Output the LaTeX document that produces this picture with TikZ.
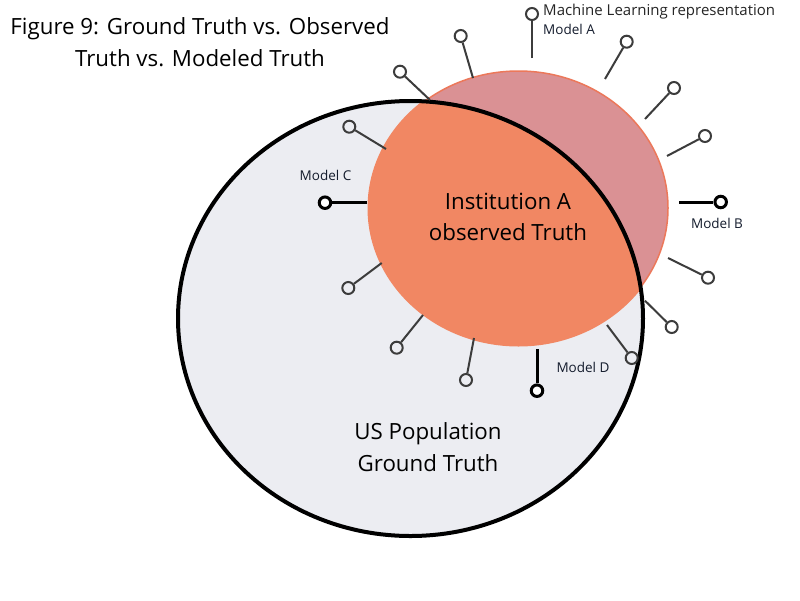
\documentclass[tikz,border=0pt]{standalone}
\usepackage{fontspec}
\setmainfont{Open Sans}
\definecolor{popfill}{RGB}{236,237,242}
\definecolor{mlpink}{RGB}{218,145,148}
\definecolor{obsorange}{RGB}{241,135,99}
\definecolor{mledge}{RGB}{236,120,90}
\definecolor{pingray}{RGB}{60,60,60}
\definecolor{labelink}{RGB}{20,28,45}
\begin{document}
\begin{tikzpicture}[x=1pt,y=-1pt,
  pinhead/.style={circle, draw=pingray, line width=2, inner sep=0, minimum size=12},
  pinstem/.style={draw=pingray, line width=2},
  keyhead/.style={circle, draw=black, fill=white, line width=3, inner sep=0, minimum size=11.5},
  keystem/.style={draw=black, line width=3},
  bigtext/.style={font=\fontsize{22.3}{31.5}\selectfont, align=center, inner sep=0},
  modeltext/.style={font=\fontsize{13.5}{16}\selectfont, text=labelink, inner sep=0},
  mltext/.style={font=\fontsize{15}{18}\selectfont, text=black!85, inner sep=0}]
\useasboundingbox (0,0) rectangle (800,600);
\fill[white] (0,0) rectangle (800,600);
% population circle
\fill[popfill] (410.5,318.5) ellipse [x radius=232.5, y radius=217.5];
% ML representation ellipse
\fill[mlpink] (518.5,208) ellipse [x radius=149.5, y radius=137];
\draw[mledge, line width=1.5] (518.5,208) ellipse [x radius=149.5, y radius=137];
\begin{scope}
  \clip (410.5,318.5) ellipse [x radius=232.5, y radius=217.5];
  \fill[obsorange] (518.5,208) ellipse [x radius=151, y radius=138.5];
\end{scope}
\draw[black, line width=4] (410.5,318.5) ellipse [x radius=232.5, y radius=217.5];
% gray pins
\foreach \n/\hx/\hy/\sx/\sy in {1/460.7/36/473/78, 2/400/71.7/430/100, 3/626.7/41.7/605/79,
  4/674/88/645/119, 5/705/136/667/156, 6/708/277.7/668/258, 7/671.7/327/645/300.7,
  8/631.7/358/607/325, 9/466/380/474/338, 10/396.7/347.7/423/315, 11/348.3/288/381.7/263,
  12/349.3/126.7/386/149, A/532/14/532/58}{
  \coordinate (s\n) at (\sx,\sy);
  \node[pinhead] (p\n) at (\hx,\hy) {};
  \draw[pinstem] (s\n) -- (p\n);
}
% key model pins
\foreach \n/\hx/\hy/\sx/\sy in {B/720.7/202/679/202, C/325/202.7/367/202.7, D/537/390.7/537/349}{
  \coordinate (s\n) at (\sx,\sy);
  \node[keyhead] (p\n) at (\hx,\hy) {};
  \draw[keystem] (s\n) -- (p\n);
}
% texts
\node[bigtext] (title) at (200,42) {Figure 9: Ground Truth vs. Observed\\Truth vs. Modeled Truth};
\node[bigtext] (obs) at (508,217) {Institution A\\observed Truth};
\node[bigtext] (pop) at (428,447) {US Population\\Ground Truth};
\node[mltext, anchor=west] (ml) at (543,12) {Machine Learning representation};
\node[modeltext, anchor=west] (lA) at (543,29) {Model A};
\node[modeltext] (lB) at (717,223) {Model B};
\node[modeltext] (lC) at (325.5,175) {Model C};
\node[modeltext] (lD) at (583,367) {Model D};
\end{tikzpicture}
\end{document}
